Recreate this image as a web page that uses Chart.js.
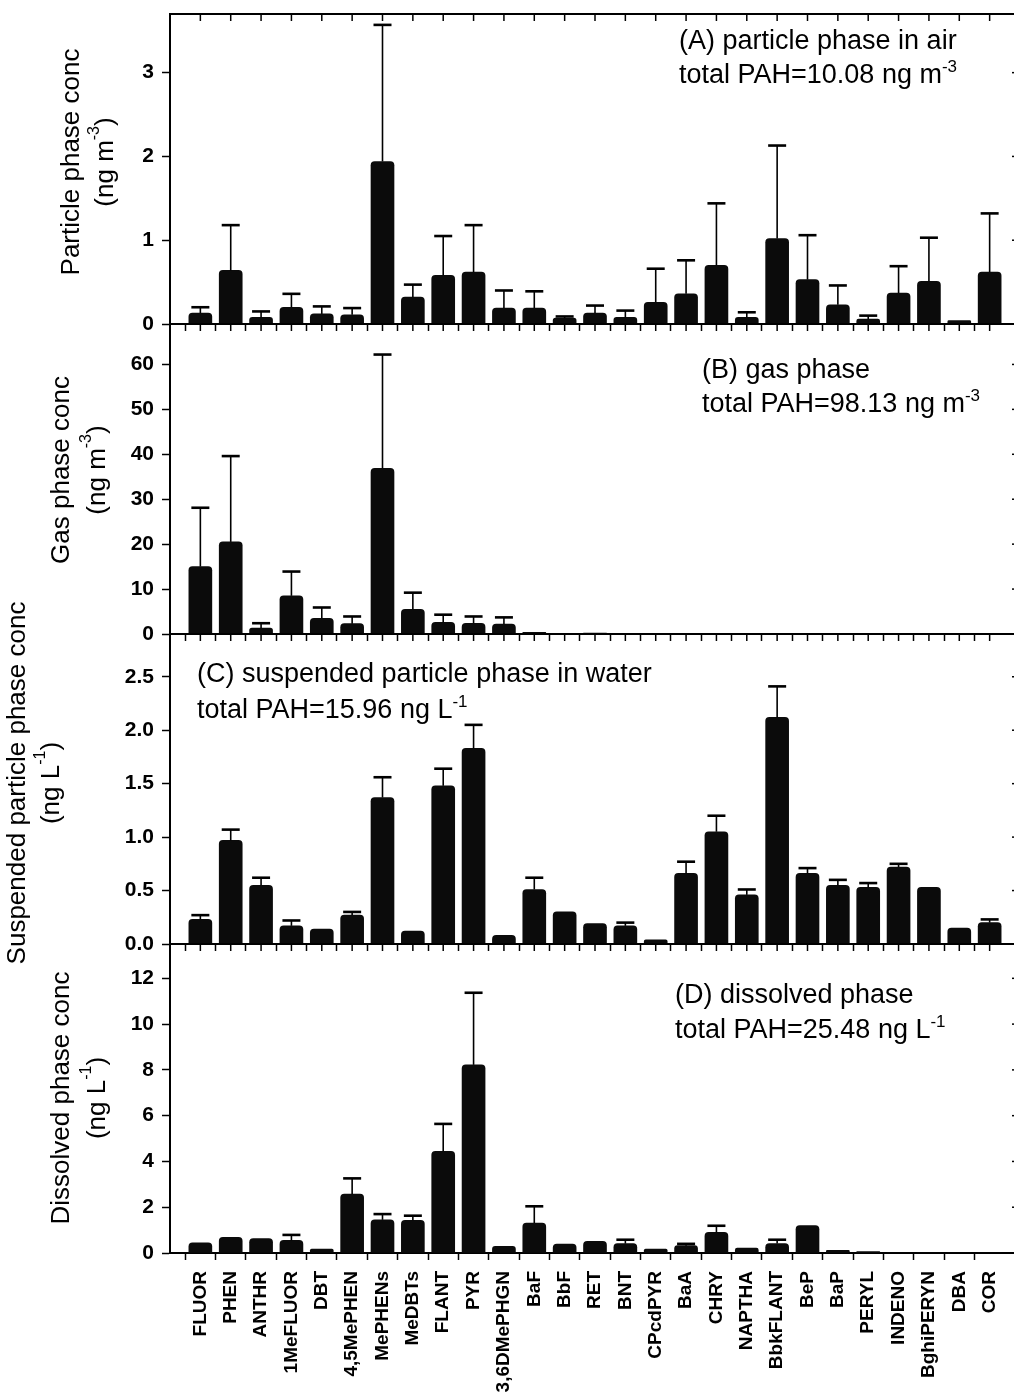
<!DOCTYPE html>
<html><head><meta charset="utf-8">
<script src="https://cdn.jsdelivr.net/npm/chart.js@4.4.1/dist/chart.umd.min.js"></script>
<style>
html,body{margin:0;padding:0;background:#fff;overflow:hidden;}
#wrap{position:relative;width:1014px;height:1392px;overflow:hidden;background:#fff;}
canvas{position:absolute;left:0;top:0;}
</style></head><body><div id="wrap">
<canvas id="cA" width="1024" height="1392"></canvas>
<canvas id="cB" width="1024" height="1392"></canvas>
<canvas id="cC" width="1024" height="1392"></canvas>
<canvas id="cD" width="1024" height="1392"></canvas>
</div>
<script>
// ---------------- data ----------------
const categories = ['FLUOR','PHEN','ANTHR','1MeFLUOR','DBT','4,5MePHEN','MePHENs','MeDBTs','FLANT','PYR','3,6DMePHGN','BaF','BbF','RET','BNT','CPcdPYR','BaA','CHRY','NAPTHA','BbkFLANT','BeP','BaP','PERYL','INDENO','BghiPERYN','DBA','COR'];

// (A) particle phase in air, ng m-3 : mean and upper end of error bar
const particleAir      = [0.13,0.64,0.08,0.20,0.12,0.11,1.94,0.32,0.58,0.62,0.19,0.19,0.07,0.13,0.08,0.26,0.36,0.70,0.08,1.02,0.53,0.23,0.06,0.37,0.51,0.04,0.62];
const particleAirUpper = [0.20,1.18,0.15,0.36,0.21,0.19,3.57,0.47,1.05,1.18,0.40,0.39,0.09,0.22,0.16,0.66,0.76,1.44,0.14,2.13,1.06,0.46,0.10,0.69,1.03,null,1.32];

// (B) gas phase, ng m-3
const gasPhase      = [15.0,20.5,1.3,8.5,3.5,2.3,36.9,5.5,2.6,2.4,2.2,0.35,0.05,0.2,0.05,0,0,0.15,0,0,0,0,0,0,0,0,0];
const gasPhaseUpper = [28.1,39.6,2.4,13.9,5.9,3.9,62.2,9.2,4.3,3.9,3.7,null,null,null,null,null,null,null,null,null,null,null,null,null,null,null,null];

// (C) suspended particle phase in water, ng L-1
const suspended      = [0.23,0.97,0.55,0.17,0.14,0.27,1.37,0.12,1.48,1.83,0.08,0.51,0.30,0.19,0.17,0.04,0.66,1.05,0.46,2.12,0.66,0.55,0.53,0.72,0.53,0.15,0.20];
const suspendedUpper = [0.27,1.07,0.62,0.22,null,0.30,1.56,null,1.64,2.05,null,0.62,null,null,0.20,null,0.77,1.20,0.51,2.41,0.71,0.60,0.57,0.75,null,null,0.23];

// (D) dissolved phase, ng L-1
const dissolved      = [0.44,0.68,0.63,0.55,0.17,2.57,1.45,1.43,4.44,8.22,0.29,1.31,0.39,0.51,0.41,0.17,0.32,0.90,0.22,0.41,1.20,0.12,0.06,0,0,0,0];
const dissolvedUpper = [null,null,null,0.79,null,3.26,1.70,1.63,5.64,11.37,null,2.04,null,null,0.58,null,0.40,1.19,null,0.58,null,null,null,null,null,null,null];

// y-axis tick settings per panel
const yMaxA = 3.7,  yStepA = 1;
const yMaxB = 69,   yStepB = 10;
const yMaxC = 2.9,  yStepC = 0.5;
const yMaxD = 13.5, yStepD = 2;

// ---------------- helpers ----------------
const FONT = '"Liberation Sans", Arial, Helvetica, sans-serif';
const xLabels = [''].concat(categories, ['']);
function pad(arr){ return [null].concat(arr, [null]); }

function segWidths(ctx, segs, size){
  return segs.map(s => { ctx.font = (s.sup ? Math.round(size*0.62) : size) + 'px ' + FONT; return ctx.measureText(s.t).width; });
}
function drawRich(ctx, segs, x, y, size){
  const ws = segWidths(ctx, segs, size);
  let cx = x;
  segs.forEach((s,i) => {
    ctx.font = (s.sup ? Math.round(size*0.62) : size) + 'px ' + FONT;
    ctx.fillText(s.t, cx, s.sup ? y - size*0.42 : y);
    cx += ws[i];
  });
  return cx - x;
}

function errorPlugin(upper){
  return { id:'errorBars', afterDatasetsDraw(chart){
    const ctx = chart.ctx, meta = chart.getDatasetMeta(0), ys = chart.scales.y;
    ctx.save(); ctx.strokeStyle = '#000';
    upper.forEach((u,i) => {
      if (u == null) return;
      const el = meta.data[i+1]; if (!el) return;
      const yTop = ys.getPixelForValue(u);
      ctx.lineWidth = 1.6;
      ctx.beginPath(); ctx.moveTo(el.x, el.y); ctx.lineTo(el.x, yTop); ctx.stroke();
      ctx.lineWidth = 2.6;
      ctx.beginPath(); ctx.moveTo(el.x - 9, yTop); ctx.lineTo(el.x + 9, yTop); ctx.stroke();
    });
    ctx.restore();
  }};
}

function framePlugin(){
  return { id:'frame', afterDraw(chart){
    const ctx = chart.ctx, a = chart.chartArea, xs = chart.scales.x, ys = chart.scales.y;
    ctx.save(); ctx.strokeStyle = '#000';
    ctx.lineWidth = 2;
    ctx.beginPath(); ctx.moveTo(a.left-1, a.top); ctx.lineTo(a.right, a.top); ctx.stroke();
    ctx.beginPath(); ctx.moveTo(a.right, a.top); ctx.lineTo(a.right, a.bottom); ctx.stroke();
    ctx.lineWidth = 1.5;
    for (let i = 1; i < xLabels.length-1; i++){
      const x = xs.getPixelForTick(i);
      ctx.beginPath(); ctx.moveTo(x, a.top); ctx.lineTo(x, a.top + 7); ctx.stroke();
    }
    ys.ticks.forEach(t => {
      const y = ys.getPixelForValue(t.value);
      ctx.beginPath(); ctx.moveTo(a.right, y); ctx.lineTo(a.right - 8, y); ctx.stroke();
    });
    ctx.restore();
  }};
}

function textPlugin(spec){
  return { id:'panelText', afterDraw(chart){
    const ctx = chart.ctx;
    ctx.save(); ctx.fillStyle = '#000';
    spec.title.forEach((line, k) => {
      const size = spec.titleSize;
      const w = segWidths(ctx, line, size).reduce((p,c)=>p+c,0);
      ctx.save();
      ctx.translate(spec.titleX[k], spec.titleY);
      ctx.rotate(-Math.PI/2);
      ctx.textBaseline = 'middle'; ctx.textAlign = 'left';
      drawRich(ctx, line, -w/2, 0, size);
      ctx.restore();
    });
    ctx.textBaseline = 'alphabetic'; ctx.textAlign = 'left';
    spec.note.forEach((line, k) => drawRich(ctx, line, spec.noteX, spec.noteY[k], spec.noteSize));
    ctx.restore();
  }};
}

function makePanel(id, values, upper, yMax, yStep, decimals, geom, spec){
  const showLabels = !!geom.labels;
  return new Chart(document.getElementById(id), {
    type: 'bar',
    data: { labels: xLabels, datasets: [{
      data: pad(values),
      backgroundColor: '#0b0b0b',
      borderWidth: 0,
      barThickness: 23,
      borderRadius: {topLeft: 4, topRight: 4, bottomLeft: 0, bottomRight: 0},
      borderSkipped: 'bottom'
    }]},
    options: {
      responsive: false, animation: false, devicePixelRatio: 1,
      events: [],
      layout: { padding: { top: geom.top, bottom: geom.padBottom, left: 0, right: 4 } },
      plugins: { legend: {display:false}, tooltip: {enabled:false}, title:{display:false} },
      scales: {
        x: {
          type: 'category', offset: false,
          grid: { display: true, drawOnChartArea: false, drawTicks: true, tickLength: 7, tickWidth: 1.5,
                  color: c => (c.index === 0 || c.index === xLabels.length-1) ? 'rgba(0,0,0,0)' : '#000' },
          border: { display: true, color: '#000', width: 2 },
          ticks: { display: showLabels, autoSkip: false, minRotation: 90, maxRotation: 90, padding: 11,
                   color: '#000', font: { family: FONT, size: 19, weight: 'bold' } },
          afterFit: s => { s.height = geom.xAxisH; s.paddingLeft = 0; s.paddingRight = 0; }
        },
        y: {
          min: 0, max: yMax,
          grid: { display: true, drawOnChartArea: false, drawTicks: true, tickLength: 8, tickWidth: 1.5, color: '#000' },
          border: { display: true, color: '#000', width: 2 },
          ticks: { stepSize: yStep, includeBounds: false, padding: 8, color: '#000',
                   font: { family: FONT, size: 21, weight: 'bold' },
                   callback: v => v.toFixed(decimals) },
          afterFit: s => { s.width = 170; s.paddingTop = 0; s.paddingBottom = 0; }
        }
      }
    },
    plugins: [errorPlugin(upper), framePlugin(), textPlugin(spec)]
  });
}

const H = 1392;
makePanel('cA', particleAir, particleAirUpper, yMaxA, yStepA, 0,
  { top: 14, padBottom: H - 324 - 10, xAxisH: 10 },
  { titleSize: 26, titleX: [72, 106], titleY: 162,
    title: [[{t:'Particle phase conc'}], [{t:'(ng m'},{t:'-3',sup:true},{t:')'}]],
    noteSize: 27, noteX: 679, noteY: [49, 83],
    note: [[{t:'(A) particle phase in air'}], [{t:'total PAH=10.08 ng m'},{t:'-3',sup:true}]] });

makePanel('cB', gasPhase, gasPhaseUpper, yMaxB, yStepB, 0,
  { top: 324, padBottom: H - 634 - 10, xAxisH: 10 },
  { titleSize: 26, titleX: [62, 98], titleY: 470,
    title: [[{t:'Gas phase conc'}], [{t:'(ng m'},{t:'-3',sup:true},{t:')'}]],
    noteSize: 27, noteX: 702, noteY: [378, 412],
    note: [[{t:'(B) gas phase'}], [{t:'total PAH=98.13 ng m'},{t:'-3',sup:true}]] });

makePanel('cC', suspended, suspendedUpper, yMaxC, yStepC, 1,
  { top: 634, padBottom: H - 944 - 10, xAxisH: 10 },
  { titleSize: 26, titleX: [18, 52], titleY: 783,
    title: [[{t:'Suspended particle phase conc'}], [{t:'(ng L'},{t:'-1',sup:true},{t:')'}]],
    noteSize: 27, noteX: 197, noteY: [682, 718],
    note: [[{t:'(C) suspended particle phase in water'}], [{t:'total PAH=15.96 ng L'},{t:'-1',sup:true}]] });

makePanel('cD', dissolved, dissolvedUpper, yMaxD, yStepD, 0,
  { top: 944, padBottom: 0, xAxisH: H - 1253, labels: true },
  { titleSize: 26, titleX: [62, 98], titleY: 1098,
    title: [[{t:'Dissolved phase conc'}], [{t:'(ng L'},{t:'-1',sup:true},{t:')'}]],
    noteSize: 27, noteX: 675, noteY: [1003, 1038],
    note: [[{t:'(D) dissolved phase'}], [{t:'total PAH=25.48 ng L'},{t:'-1',sup:true}]] });
</script>
</body></html>
